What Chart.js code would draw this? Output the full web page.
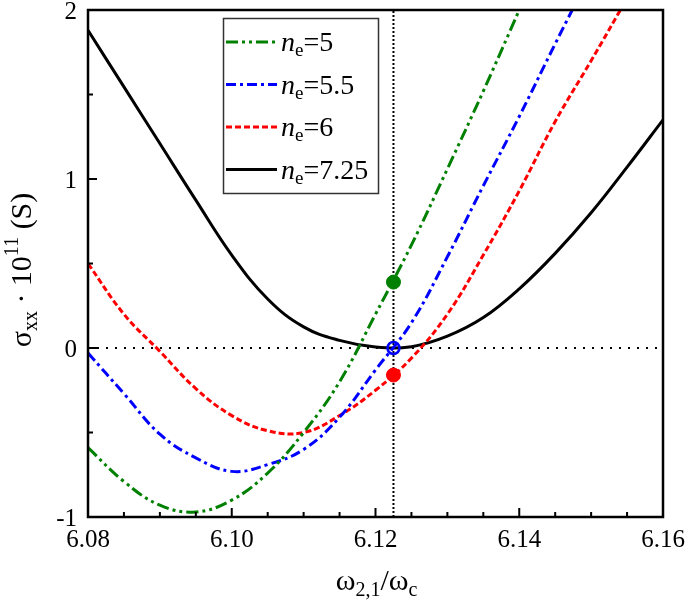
<!DOCTYPE html>
<html>
<head>
<meta charset="utf-8">
<script src="https://cdn.jsdelivr.net/npm/chart.js@4.4.1/dist/chart.umd.min.js"></script>
<style>
    html, body { margin: 0; padding: 0; background: #fff; }
    #chart { display: block; }
</style>
</head>
<body>
<canvas id="chart" width="685" height="603"></canvas>
<script>
// omega_{2,1}/omega_c grid
const xValues = [6.080, 6.085, 6.090, 6.095, 6.100, 6.105, 6.110, 6.115, 6.120,
    6.125, 6.130, 6.135, 6.140, 6.145, 6.150, 6.155, 6.160];

// sigma_xx * 1e11 for each n_e
const ne5 = [-0.59, -0.79, -0.93, -0.97, -0.90, -0.74, -0.50, -0.20, 0.20, 0.61, 1.06, 1.52, 2.00,
    null, null, null, null];
const ne55 = [-0.03, -0.27, -0.51, -0.65, -0.73, -0.69, -0.60, -0.41, -0.13, 0.15, 0.54, 0.96, 1.37,
    1.80, 2.22, null, null];
const ne6 = [0.50, 0.20, -0.02, -0.24, -0.40, -0.49, -0.50, -0.40, -0.25, -0.06, 0.20, 0.55, 0.93,
    1.34, 1.70, 2.07, 2.45];
const ne725 = [1.88, 1.545, 1.21, 0.875, 0.55, 0.29, 0.125, 0.045, 0.006, 0.008, 0.07, 0.18, 0.35,
    0.56, 0.80, 1.07, 1.35];

const neLabels = ['5', '5.5', '6', '7.25'];

// marked points on the vertical line
const crossX = 6.1225;
const markerValues = [0.39, -0.16, 0];

const xTicks = [6.08, 6.10, 6.12, 6.14, 6.16];
const yTicks = [-1, 0, 1, 2];

const SERIF = '"Liberation Serif", "Times New Roman", serif';
const font = (size, italic) => `${italic ? 'italic ' : ''}${size}px ${SERIF}`;

const toPoints = (values) => xValues.map((x, i) => ({ x, y: values[i] }));

const series = [
    { label: neLabels[0], data: ne5, color: '#008000', dash: [12, 4, 3, 4, 3, 4] },
    { label: neLabels[1], data: ne55, color: '#0000ff', dash: [10, 4, 3, 4] },
    { label: neLabels[2], data: ne6, color: '#ff0000', dash: [6, 3] },
    { label: neLabels[3], data: ne725, color: '#000000', dash: [] },
];

const drawRich = (ctx, parts, x, y, align) => {
    let total = 0;
    parts.forEach((p) => {
        ctx.font = font(p.size, p.italic);
        p.w = ctx.measureText(p.text).width;
        total += p.w;
    });
    let cx = align === 'center' ? x - total / 2 : x;
    ctx.textAlign = 'left';
    ctx.textBaseline = 'alphabetic';
    parts.forEach((p) => {
        ctx.font = font(p.size, p.italic);
        ctx.fillText(p.text, cx, y + (p.dy || 0));
        cx += p.w;
    });
};

const decorations = {
    id: 'decorations',
    afterDraw(chart) {
        const { ctx, chartArea, scales } = chart;
        const { left, right, top, bottom } = chartArea;
        ctx.save();
        ctx.fillStyle = '#000';
        ctx.strokeStyle = '#000';

        // frame
        ctx.lineWidth = 2.5;
        ctx.setLineDash([]);
        ctx.strokeRect(left, top, right - left, bottom - top);

        // inward ticks
        ctx.lineWidth = 2;
        ctx.beginPath();
        xTicks.forEach((v, i) => {
            const px = scales.x.getPixelForValue(v);
            ctx.moveTo(px, bottom);
            ctx.lineTo(px, bottom - 9);
            if (i < xTicks.length - 1) {
                const step = (xTicks[i + 1] - v) / 4;
                for (let k = 1; k < 4; k++) {
                    const mx = scales.x.getPixelForValue(v + step * k);
                    ctx.moveTo(mx, bottom);
                    ctx.lineTo(mx, bottom - 5);
                }
            }
        });
        yTicks.forEach((v, i) => {
            const py = scales.y.getPixelForValue(v);
            ctx.moveTo(left, py);
            ctx.lineTo(left + 9, py);
            if (i < yTicks.length - 1) {
                const my = scales.y.getPixelForValue(v + (yTicks[i + 1] - v) / 2);
                ctx.moveTo(left, my);
                ctx.lineTo(left + 5, my);
            }
        });
        ctx.stroke();

        // tick labels
        ctx.font = font(25);
        ctx.textBaseline = 'alphabetic';
        ctx.textAlign = 'center';
        xTicks.forEach((v) => {
            ctx.fillText(v.toFixed(2), scales.x.getPixelForValue(v), bottom + 30);
        });
        ctx.textAlign = 'right';
        yTicks.forEach((v) => {
            ctx.fillText(String(v), left - 11, scales.y.getPixelForValue(v) + 8.5);
        });

        // legend
        const box = { x: 223.5, y: 18.5, w: 155, h: 175 };
        ctx.fillStyle = '#fff';
        ctx.fillRect(box.x, box.y, box.w, box.h);
        ctx.lineWidth = 1.5;
        ctx.strokeStyle = '#333';
        ctx.strokeRect(box.x, box.y, box.w, box.h);
        series.forEach((s, i) => {
            const ly = 42 + i * 42.5;
            ctx.strokeStyle = s.color;
            ctx.lineWidth = 3;
            ctx.setLineDash(s.dash);
            ctx.beginPath();
            ctx.moveTo(226, ly);
            ctx.lineTo(277, ly);
            ctx.stroke();
            ctx.setLineDash([]);
            ctx.fillStyle = '#000';
            drawRich(ctx, [
                { text: 'n', size: 28, italic: true },
                { text: 'e', size: 19, dy: 5 },
                { text: '=' + s.label, size: 28 },
            ], 281, ly + 9, 'left');
        });

        // axis titles
        ctx.fillStyle = '#000';
        drawRich(ctx, [
            { text: 'ω', size: 30 },
            { text: '2,1', size: 20, dy: 6 },
            { text: '/ω', size: 30 },
            { text: 'c', size: 20, dy: 6 },
        ], (left + right) / 2 + 1, 590, 'center');

        ctx.save();
        ctx.translate(31, 270);
        ctx.rotate(-Math.PI / 2);
        drawRich(ctx, [
            { text: 'σ', size: 30 },
            { text: 'xx', size: 20, dy: 6 },
            { text: ' · 10', size: 30 },
            { text: '11', size: 20, dy: -13 },
            { text: ' (S)', size: 30 },
        ], 0, 0, 'center');
        ctx.restore();

        ctx.restore();
    },
};

const datasets = [
    {
        data: [{ x: crossX, y: markerValues[0] }, { x: crossX, y: markerValues[1] }, { x: crossX, y: markerValues[2] }],
        showLine: false,
        pointRadius: [7, 7, 6],
        pointBorderWidth: [1, 1, 2.5],
        pointBackgroundColor: ['#008000', '#ff0000', 'rgba(255,255,255,0)'],
        pointBorderColor: ['#008000', '#ff0000', '#0000ff'],
        order: 0,
    },
    ...series.map((s) => ({
        label: s.label,
        data: toPoints(s.data),
        borderColor: s.color,
        borderWidth: 3,
        borderDash: s.dash,
        pointRadius: 0,
        tension: 0.4,
        spanGaps: false,
        order: 1,
    })),
    {
        data: [{ x: crossX, y: yTicks[0] }, { x: crossX, y: yTicks[yTicks.length - 1] }],
        borderColor: '#000',
        borderWidth: 2,
        borderDash: [2, 2],
        pointRadius: 0,
        order: 2,
    },
    {
        data: [{ x: xTicks[0], y: 0 }, { x: xTicks[xTicks.length - 1], y: 0 }],
        borderColor: '#000',
        borderWidth: 2,
        borderDash: [2, 7],
        pointRadius: 0,
        order: 2,
    },
];

new Chart(document.getElementById('chart').getContext('2d'), {
    type: 'line',
    data: { datasets },
    options: {
        responsive: false,
        animation: false,
        events: [],
        layout: { padding: { left: 0, right: 22, top: 10, bottom: 0 } },
        plugins: {
            legend: { display: false },
            tooltip: { enabled: false },
        },
        scales: {
            x: {
                type: 'linear',
                min: xTicks[0],
                max: xTicks[xTicks.length - 1],
                afterBuildTicks(scale) {
                    scale.ticks = xTicks.map((value) => ({ value }));
                },
                afterFit(scale) {
                    scale.height = 86;
                },
                grid: { display: false, drawTicks: false },
                border: { display: false },
                ticks: { display: false },
            },
            y: {
                type: 'linear',
                min: yTicks[0],
                max: yTicks[yTicks.length - 1],
                afterBuildTicks(scale) {
                    scale.ticks = yTicks.map((value) => ({ value }));
                },
                afterFit(scale) {
                    scale.width = 88;
                },
                grid: { display: false, drawTicks: false },
                border: { display: false },
                ticks: { display: false },
            },
        },
    },
    plugins: [decorations],
});
</script>
</body>
</html>
